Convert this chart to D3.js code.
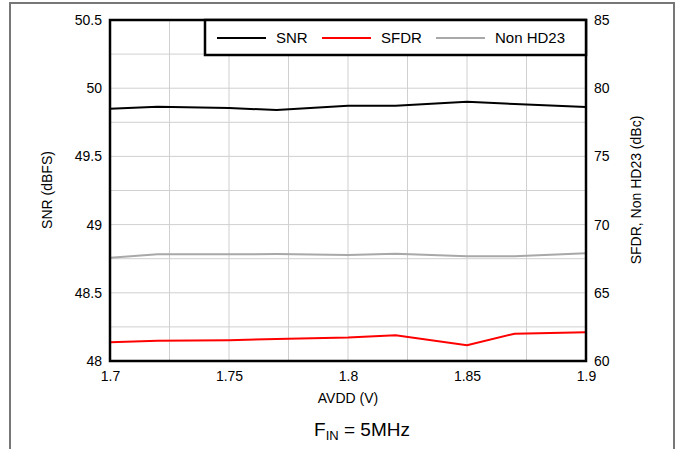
<!DOCTYPE html>
<html>
<head>
<meta charset="utf-8">
<script src="https://cdn.jsdelivr.net/npm/d3@7"></script>
<style>
  body { margin: 0; background: #fff; }
  svg { display: block; font-family: "Liberation Sans", Arial, sans-serif; }
</style>
</head>
<body>
<svg width="676" height="449"></svg>
<script>
// AVDD sweep points (V)
var avdd = [1.7, 1.72, 1.75, 1.77, 1.8, 1.82, 1.85, 1.87, 1.9];
// SNR (dBFS), left axis
var snr = [49.85, 49.864, 49.855, 49.84, 49.872, 49.872, 49.90, 49.884, 49.862];
// SFDR (dBc), right axis
var sfdr = [61.37, 61.49, 61.52, 61.61, 61.72, 61.88, 61.15, 62.0, 62.1];
// Non HD23 (dBc), right axis
var nonHd23 = [67.57, 67.82, 67.82, 67.84, 67.77, 67.87, 67.68, 67.68, 67.9];

var xTicks = [1.7, 1.75, 1.8, 1.85, 1.9];
var leftTicks = [48, 48.5, 49, 49.5, 50, 50.5];
var rightTicks = [60, 65, 70, 75, 80, 85];

var svg = d3.select('svg');
var m = {left: 110, right: 586, top: 20, bottom: 361};

var x = d3.scaleLinear().domain([1.7, 1.9]).range([m.left, m.right]);
var yL = d3.scaleLinear().domain([48, 50.5]).range([m.bottom, m.top]);
var yR = d3.scaleLinear().domain([60, 85]).range([m.bottom, m.top]);

// outer frame
svg.append('path')
  .attr('d', 'M10,449 V3 H674 V449')
  .attr('fill', 'none')
  .attr('stroke', '#777')
  .attr('stroke-width', 2);

// grid
var g = svg.append('g');
g.selectAll('.vg')
  .data(d3.range(1, 8).map(function(i) { return 1.7 + i * 0.025; }))
  .join('line')
  .attr('x1', function(d) { return x(d); })
  .attr('x2', function(d) { return x(d); })
  .attr('y1', m.top).attr('y2', m.bottom)
  .attr('stroke', '#d0d0d0').attr('stroke-width', 1);
g.selectAll('.hg')
  .data(d3.range(1, 10).map(function(i) { return 48 + i * 0.25; }))
  .join('line')
  .attr('y1', function(d) { return yL(d); })
  .attr('y2', function(d) { return yL(d); })
  .attr('x1', m.left).attr('x2', m.right)
  .attr('stroke', '#d0d0d0').attr('stroke-width', 1);

// axes text
var axisL = d3.axisLeft(yL).tickValues(leftTicks).tickSize(0).tickPadding(8)
  .tickFormat(function(d) { return d3.format('')(d); });
svg.append('g').attr('transform', 'translate(' + m.left + ',0)').call(axisL);
var axisR = d3.axisRight(yR).tickValues(rightTicks).tickSize(0).tickPadding(8);
svg.append('g').attr('transform', 'translate(' + m.right + ',0)').call(axisR);
var axisB = d3.axisBottom(x).tickValues(xTicks).tickSize(0).tickPadding(10)
  .tickFormat(function(d) { return d3.format('')(d); });
svg.append('g').attr('transform', 'translate(0,' + m.bottom + ')').call(axisB);
svg.selectAll('.domain').remove();
svg.selectAll('.tick text').attr('font-size', 14).attr('fill', '#000')
  .attr('font-family', '"Liberation Sans", Arial, sans-serif');

// series lines
function drawLine(vals, y, color) {
  var line = d3.line()
    .x(function(d, i) { return x(avdd[i]); })
    .y(function(d) { return y(d); });
  svg.append('path')
    .datum(vals)
    .attr('d', line)
    .attr('fill', 'none')
    .attr('stroke', color)
    .attr('stroke-width', 2);
}
drawLine(nonHd23, yR, '#a8a8a8');
drawLine(sfdr, yR, '#ff0000');
drawLine(snr, yL, '#000000');

// plot frame
svg.append('rect')
  .attr('x', m.left).attr('y', m.top)
  .attr('width', m.right - m.left).attr('height', m.bottom - m.top)
  .attr('fill', 'none').attr('stroke', '#000').attr('stroke-width', 2.5);

// legend
var legend = svg.append('g');
legend.append('rect')
  .attr('x', 205).attr('y', m.top)
  .attr('width', m.right - 205).attr('height', 35)
  .attr('fill', '#fff').attr('stroke', '#000').attr('stroke-width', 2.5);
var items = [
  {name: 'SNR', color: '#000000', x: 217},
  {name: 'SFDR', color: '#ff0000', x: 322},
  {name: 'Non HD23', color: '#a8a8a8', x: 436}
];
items.forEach(function(it) {
  legend.append('line')
    .attr('x1', it.x).attr('x2', it.x + 49)
    .attr('y1', 38).attr('y2', 38)
    .attr('stroke', it.color).attr('stroke-width', 2);
  legend.append('text')
    .attr('x', it.x + 59).attr('y', 43)
    .attr('font-size', 15)
    .text(it.name);
});

// axis titles
svg.append('text')
  .attr('transform', 'translate(52,190) rotate(-90)')
  .attr('text-anchor', 'middle')
  .attr('font-size', 14)
  .text('SNR (dBFS)');
svg.append('text')
  .attr('transform', 'translate(641,190) rotate(-90)')
  .attr('text-anchor', 'middle')
  .attr('font-size', 14)
  .text('SFDR, Non HD23 (dBc)');
svg.append('text')
  .attr('x', 348).attr('y', 403)
  .attr('text-anchor', 'middle')
  .attr('font-size', 14)
  .text('AVDD (V)');

var fin = svg.append('text')
  .attr('x', 362).attr('y', 436)
  .attr('text-anchor', 'middle')
  .attr('font-size', 19);
fin.append('tspan').text('F');
fin.append('tspan').attr('font-size', 13).attr('dy', 4).text('IN');
fin.append('tspan').attr('dy', -4).text(' = 5MHz');
</script>
</body>
</html>
